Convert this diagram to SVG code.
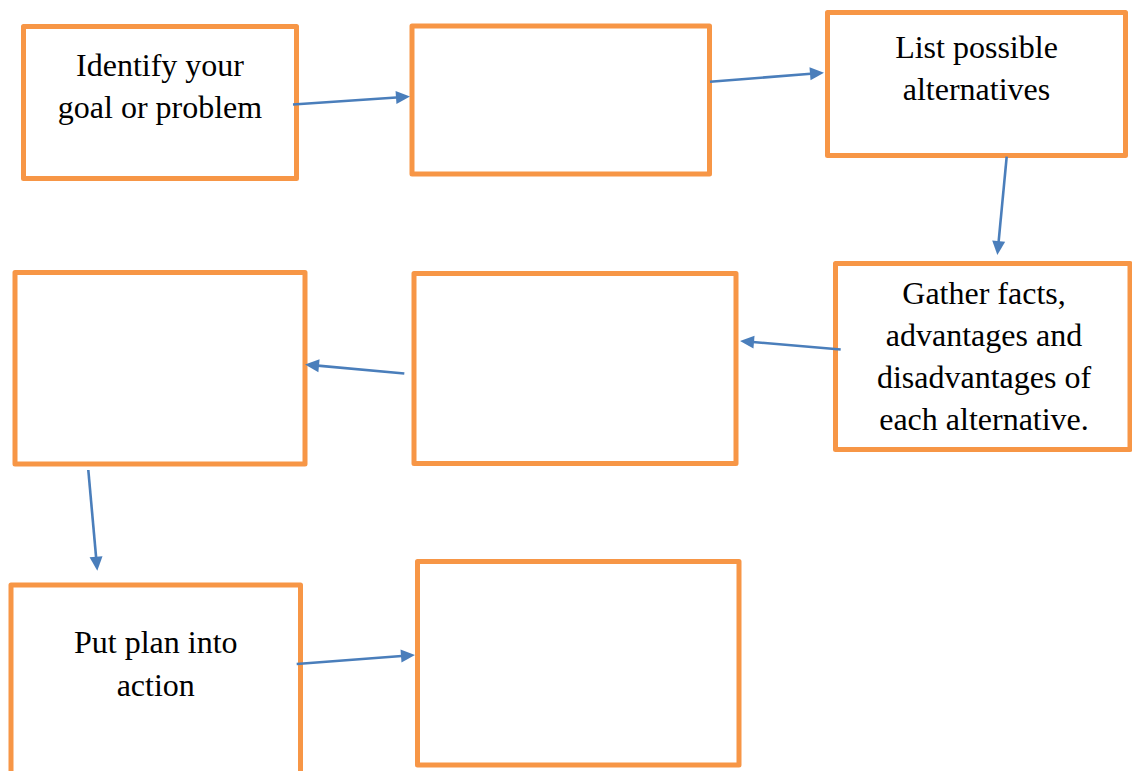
<svg xmlns="http://www.w3.org/2000/svg" width="1132" height="771" viewBox="0 0 1132 771">
<style>
.box{fill:#ffffff;stroke:#F79646;stroke-width:5;stroke-linejoin:round}
.lbl{font-family:"Liberation Serif","Times New Roman",serif;font-size:32px;fill:#000000;text-anchor:middle}
.con{stroke:#4A7EBB;stroke-width:2.6;fill:none;marker-end:url(#ah)}
</style>
<defs>
<marker id="ah" markerUnits="userSpaceOnUse" markerWidth="14" markerHeight="13" refX="4" refY="6.5" orient="auto" overflow="visible">
<path d="M0,0 L14,6.5 L0,13 Z" fill="#4A7EBB"/>
</marker>
</defs>
<rect width="1132" height="771" fill="#ffffff"/>
<g id="n1"><rect class="box" x="23.5" y="26.5" width="273" height="152"/>
<text class="lbl" x="160" y="76">Identify your</text><text class="lbl" x="160" y="118">goal or problem</text></g>
<g id="n2"><rect class="box" x="412" y="26" width="297.5" height="148"/></g>
<g id="n3"><rect class="box" x="827.5" y="12.5" width="298" height="143"/>
<text class="lbl" x="976.5" y="58">List possible</text><text class="lbl" x="976.5" y="100">alternatives</text></g>
<g id="n4"><rect class="box" x="835.5" y="263.5" width="294.5" height="186"/>
<text class="lbl" x="984" y="304">Gather facts,</text><text class="lbl" x="984" y="346">advantages and</text><text class="lbl" x="984" y="388">disadvantages of</text><text class="lbl" x="984" y="430">each alternative.</text></g>
<g id="n5"><rect class="box" x="414" y="273.5" width="322" height="190"/></g>
<g id="n6"><rect class="box" x="15" y="272.5" width="290" height="191.5"/></g>
<g id="n7"><rect class="box" x="11" y="585" width="289.5" height="210"/>
<text class="lbl" x="155.75" y="653">Put plan into</text><text class="lbl" x="155.75" y="696">action</text></g>
<g id="n8"><rect class="box" x="417.5" y="561.5" width="321.5" height="203.5"/></g>
<g id="connectors">
<line class="con" x1="293" y1="104.5" x2="400" y2="97.2"/>
<line class="con" x1="710" y1="81.7" x2="814" y2="73.5"/>
<line class="con" x1="1006.7" y1="156.7" x2="998.3" y2="245"/>
<line class="con" x1="840.7" y1="349.5" x2="750" y2="341.8"/>
<line class="con" x1="404.3" y1="373.5" x2="315" y2="365.4"/>
<line class="con" x1="88.3" y1="470" x2="96.4" y2="560.7"/>
<line class="con" x1="296.7" y1="664" x2="405" y2="655.8"/>
</g>
</svg>
